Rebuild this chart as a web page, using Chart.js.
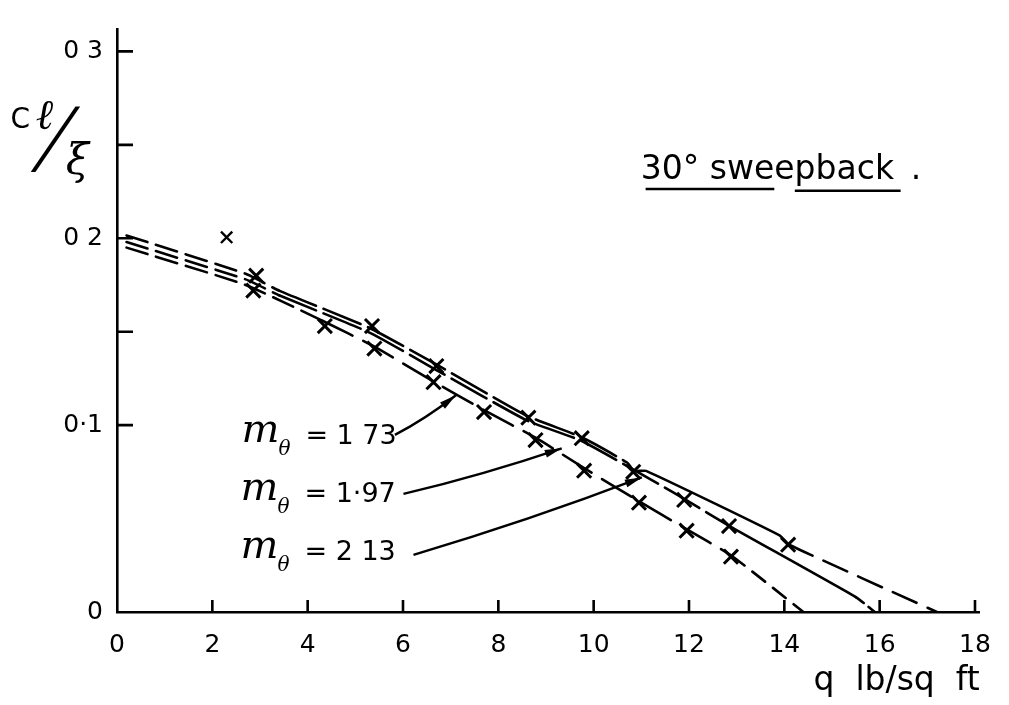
<!DOCTYPE html>
<html>
<head>
<meta charset="utf-8">
<script src="https://cdn.jsdelivr.net/npm/chart.js@4.4.1/dist/chart.umd.min.js"></script>
<style>
  html, body { margin: 0; padding: 0; background: #fff; }
  #wrap { width: 1009px; height: 705px; }
</style>
</head>
<body>
<div id="wrap"><canvas id="chart" width="1009" height="705"></canvas></div>
<script>
// faired curves, Cl/xi against q (lb/sq ft)
const qCurve173 = [0.2, 2.7, 4.3, 5.4, 6.6, 7.7, 8.8, 9.8, 10.9, 11.9, 12.9, 14.4];
const cCurve173 = [0.195, 0.175, 0.156, 0.142, 0.124, 0.108, 0.093, 0.077, 0.060, 0.045, 0.030, 0];

const qCurve197 = [0.2, 2.7, 3.4, 5.3, 6.7, 8.6, 9.75, 11.4, 11.9, 12.85, 15.5, 15.9];
const cCurve197 = [0.198, 0.178, 0.1695, 0.1495, 0.1295, 0.1025, 0.0915, 0.068, 0.0605, 0.046, 0.008, 0];

const qCurve213 = [0.2, 2.7, 3.4, 5.3, 6.7, 8.6, 9.75, 10.7, 10.85, 11.1, 13.9, 14.1, 17.2];
const cCurve213 = [0.2015, 0.181, 0.172, 0.152, 0.1325, 0.105, 0.0935, 0.080, 0.0755, 0.0755, 0.041, 0.036, 0];

// measured points (x marks)
const qMark173 = [2.86, 4.36, 5.4, 6.64, 7.7, 8.78, 9.8, 10.95, 11.95, 12.88];
const cMark173 = [0.172, 0.153, 0.141, 0.123, 0.107, 0.092, 0.0756, 0.0585, 0.0435, 0.0296];
const qMark197 = [5.35, 9.75, 11.9, 12.84];
const cMark197 = [0.153, 0.093, 0.060, 0.046];
const qMark213 = [2.92, 6.7, 8.63, 10.83, 14.08];
const cMark213 = [0.180, 0.1316, 0.104, 0.075, 0.036];
const qStray = [2.3];
const cStray = [0.2005];

// axis text
const yTickValues = [0, 0.1, 0.2, 0.3];
const yTickText = ['0', '0·1', '0 2', '0 3'];
const mValues = ['1 73', '1·97', '2 13'];

const FONT = 'DejaVu Sans';

function pts(qs, cs) {
    return qs.map((q, i) => ({ x: q, y: cs[i] }));
}

function curve(label, qs, cs, dashAt) {
    return {
        label: label,
        data: pts(qs, cs),
        borderColor: '#000',
        borderWidth: 2.6,
        borderCapStyle: 'round',
        pointRadius: 0,
        tension: 0.15,
        fill: false,
        segment: {
            borderDash: ctx => dashAt(ctx.p0.parsed.x)
        }
    };
}

function crosses(label, qs, cs, r, w) {
    return {
        label: label,
        data: pts(qs, cs),
        showLine: false,
        pointStyle: 'crossRot',
        pointRadius: r,
        pointHoverRadius: r,
        pointBorderWidth: w,
        pointBorderColor: '#000',
        borderColor: '#000'
    };
}

const inwardTicks = {
    id: 'inwardTicks',
    afterDraw(chart) {
        const { ctx, scales: { x, y } } = chart;
        ctx.save();
        ctx.strokeStyle = '#000';
        ctx.lineWidth = 2.6;
        ctx.beginPath();
        x.ticks.forEach(t => {
            if (t.value === 0) return;
            const px = x.getPixelForValue(t.value);
            ctx.moveTo(px, y.bottom);
            ctx.lineTo(px, y.bottom - 12);
        });
        y.ticks.forEach(t => {
            if (t.value < 0.09) return;
            const py = y.getPixelForValue(t.value);
            ctx.moveTo(x.left, py);
            ctx.lineTo(x.left + 16, py);
        });
        ctx.stroke();
        ctx.restore();
    }
};

// labels, arrows and titles placed in data units
const notes = {
    id: 'notes',
    afterDraw(chart) {
        const { ctx, scales: { x, y } } = chart;
        const X = v => x.getPixelForValue(v);
        const Y = v => y.getPixelForValue(v);

        ctx.save();
        ctx.fillStyle = '#000';
        ctx.strokeStyle = '#000';

        const text = (s, q, v, font, align, base) => {
            ctx.font = font;
            ctx.textAlign = align || 'left';
            ctx.textBaseline = base || 'alphabetic';
            ctx.fillText(s, X(q), Y(v));
        };

        // m_theta labels
        const labelQ = [2.61, 2.59, 2.59];
        const labelC = [0.0938, 0.0627, 0.0316];
        mValues.forEach((m, i) => {
            const px = X(labelQ[i]), py = Y(labelC[i]);
            ctx.textBaseline = 'middle';
            ctx.textAlign = 'left';
            ctx.font = 'italic 40px DejaVu Serif';
            ctx.fillText('m', px, py - 5);
            ctx.font = 'italic 20px DejaVu Serif';
            ctx.fillText('θ', px + 37, py + 13);
            ctx.font = '27px ' + FONT;
            ctx.fillText('= ' + m, px + 64, py);
        });

        // arrows from labels to curves
        const arrows = [
            { from: [5.83, 0.0948], to: [7.11, 0.116], bend: 4 },
            { from: [6.01, 0.0632], to: [9.33, 0.0876], bend: 4 },
            { from: [6.22, 0.0306], to: [11.01, 0.072], bend: 5 }
        ];
        ctx.lineWidth = 2.4;
        arrows.forEach(a => {
            const x0 = X(a.from[0]), y0 = Y(a.from[1]);
            const x1 = X(a.to[0]), y1 = Y(a.to[1]);
            const mx = (x0 + x1) / 2, my = (y0 + y1) / 2 + a.bend;
            ctx.beginPath();
            ctx.moveTo(x0, y0);
            ctx.quadraticCurveTo(mx, my, x1, y1);
            ctx.stroke();
            const ang = Math.atan2(y1 - my, x1 - mx);
            ctx.beginPath();
            ctx.moveTo(x1, y1);
            ctx.lineTo(x1 - 17 * Math.cos(ang) + 4 * Math.sin(ang), y1 - 17 * Math.sin(ang) - 4 * Math.cos(ang));
            ctx.lineTo(x1 - 17 * Math.cos(ang) - 4 * Math.sin(ang), y1 - 17 * Math.sin(ang) + 4 * Math.cos(ang));
            ctx.closePath();
            ctx.fill();
        });

        // title
        text('30° sweepback', 10.99, 0.2316, '33px ' + FONT);
        text('.', 16.65, 0.2316, '33px ' + FONT);
        ctx.lineWidth = 2.6;
        ctx.beginPath();
        ctx.moveTo(X(11.09), Y(0.2264));
        ctx.lineTo(X(13.79), Y(0.2264));
        ctx.moveTo(X(14.22), Y(0.2254));
        ctx.lineTo(X(16.44), Y(0.2254));
        ctx.stroke();

        // y axis name Cl / xi
        text('C', -2.03, 0.259, '28px ' + FONT, 'center', 'alphabetic');
        text('ℓ', -1.52, 0.2585, 'italic 42px DejaVu Serif', 'center', 'alphabetic');
        // slanted slash as text, sheared to match the hand-drawn stroke
        ctx.save();
        ctx.translate(X(-1.52), Y(0.2358));
        ctx.transform(1, 0, -0.34, 1, 0, 0);
        ctx.font = '98px Liberation Serif';
        ctx.textAlign = 'center';
        ctx.textBaseline = 'alphabetic';
        ctx.fillText('/', 0, 0);
        ctx.restore();
        text('ξ', -0.83, 0.2405, 'italic 42px DejaVu Serif', 'center', 'middle');

        ctx.restore();
    }
};

const dash173 = q => q < 2.75 ? [22, 9] : (q < 12.8 ? [34, 12] : [16, 10]);
const dash197 = q => q < 2.75 ? [22, 9] : (q < 12.8 ? [40, 8] : (q < 15.4 ? [] : [10, 6]));
const dash213 = q => q < 2.75 ? [22, 9] : (q < 10.8 ? [40, 8] : (q < 14.0 ? [] : [26, 12]));

new Chart(document.getElementById('chart'), {
    type: 'line',
    data: {
        datasets: [
            curve('m = 1.73', qCurve173, cCurve173, dash173),
            curve('m = 1.97', qCurve197, cCurve197, dash197),
            curve('m = 2.13', qCurve213, cCurve213, dash213),
            crosses('1.73 points', qMark173, cMark173, 10, 3),
            crosses('1.97 points', qMark197, cMark197, 10, 3),
            crosses('2.13 points', qMark213, cMark213, 10, 3),
            crosses('stray point', qStray, cStray, 8, 2.4)
        ]
    },
    options: {
        responsive: false,
        animation: false,
        devicePixelRatio: 1,
        layout: { padding: { left: 10, right: 19, top: 10, bottom: 0 } },
        plugins: {
            legend: { display: false },
            tooltip: { enabled: false }
        },
        scales: {
            x: {
                type: 'linear',
                min: 0,
                max: 18.1,
                grid: { display: false, drawTicks: false },
                border: { display: true, color: '#000', width: 2.6 },
                ticks: {
                    stepSize: 2,
                    includeBounds: false,
                    autoSkip: false,
                    maxRotation: 0,
                    padding: 18,
                    color: '#000',
                    font: { family: FONT, size: 25 }
                },
                title: {
                    display: true,
                    text: 'q  lb/sq  ft',
                    align: 'end',
                    color: '#000',
                    font: { family: FONT, size: 33 },
                    padding: { top: 0, bottom: 4 }
                },
                afterFit(scale) { scale.height = 93; }
            },
            y: {
                type: 'linear',
                min: 0,
                max: 0.312,
                grid: { display: false, drawTicks: false },
                border: { display: true, color: '#000', width: 2.6 },
                ticks: {
                    stepSize: 0.05,
                    includeBounds: false,
                    autoSkip: false,
                    padding: 14,
                    color: '#000',
                    font: { family: FONT, size: 25 },
                    callback: v => {
                        const i = yTickValues.findIndex(t => Math.abs(t - v) < 1e-6);
                        return i >= 0 ? yTickText[i] : '';
                    }
                },
                afterFit(scale) { scale.width = 107; }
            }
        }
    },
    plugins: [inwardTicks, notes]
});
</script>
</body>
</html>
